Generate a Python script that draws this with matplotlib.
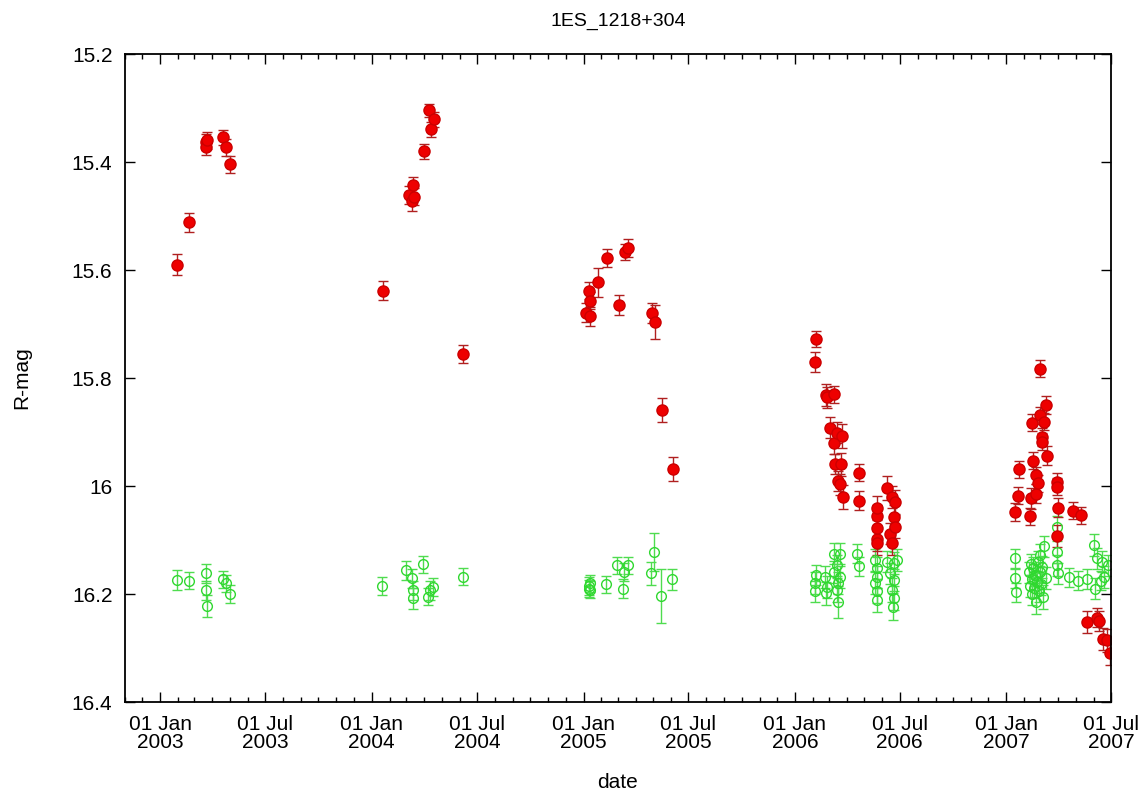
import pandas as pd
import matplotlib
matplotlib.use('Agg')
import matplotlib.pyplot as plt
import matplotlib.dates as mdates
from matplotlib.ticker import FuncFormatter

#----Data----#
red_dates = ['2003-01-29', '2003-02-19', '2003-03-21', '2003-03-21', '2003-03-22', '2003-04-19', '2003-04-25', '2003-05-02',
             '2004-01-21', '2004-03-06', '2004-03-10', '2004-03-12', '2004-03-15', '2004-03-31', '2004-04-09', '2004-04-13',
             '2004-04-17', '2004-06-06',
             '2005-01-06', '2005-01-10', '2005-01-12', '2005-01-13', '2005-01-26', '2005-02-11', '2005-03-04', '2005-03-14',
             '2005-03-19', '2005-04-30', '2005-05-05', '2005-05-17', '2005-06-05',
             '2006-02-04', '2006-02-07', '2006-02-24', '2006-02-26', '2006-03-03', '2006-03-09', '2006-03-10', '2006-03-12',
             '2006-03-14', '2006-03-16', '2006-03-20', '2006-03-22', '2006-03-24', '2006-03-25', '2006-04-21', '2006-04-22',
             '2006-05-22', '2006-05-23', '2006-05-22', '2006-05-23', '2006-05-23', '2006-06-09', '2006-06-14', '2006-06-18',
             '2006-06-18', '2006-06-21', '2006-06-23', '2006-06-23',
             '2007-01-17', '2007-01-22', '2007-01-23', '2007-02-11', '2007-02-12', '2007-02-15', '2007-02-17', '2007-02-21',
             '2007-02-21', '2007-02-25', '2007-02-28', '2007-03-01', '2007-03-03', '2007-03-04', '2007-03-07', '2007-03-10',
             '2007-03-12', '2007-03-29', '2007-03-30', '2007-03-31', '2007-03-29', '2007-04-27', '2007-05-10', '2007-05-21',
             '2007-06-07', '2007-06-10', '2007-06-18', '2007-06-24', '2007-06-29']
red_mag = [15.590, 15.512, 15.363, 15.372, 15.360, 15.354, 15.373, 15.404,
           15.638, 15.461, 15.473, 15.443, 15.464, 15.380, 15.304, 15.339,
           15.321, 15.756,
           15.679, 15.638, 15.657, 15.686, 15.623, 15.578, 15.665, 15.566,
           15.559, 15.680, 15.696, 15.859, 15.969,
           15.770, 15.728, 15.831, 15.836, 15.892, 15.920, 15.830, 15.959,
           15.901, 15.991, 15.997, 15.960, 15.907, 16.020, 16.027, 15.975,
           16.056, 16.041, 16.099, 16.078, 16.106, 16.004, 16.088, 16.020,
           16.106, 16.057, 16.029, 16.075,
           16.048, 16.018, 15.969, 16.056, 16.023, 15.883, 15.953, 15.980,
           16.014, 15.995, 15.869, 15.783, 15.909, 15.918, 15.881, 15.850,
           15.944, 15.992, 16.001, 16.040, 16.093, 16.046, 16.054, 16.252,
           16.244, 16.250, 16.283, 16.286, 16.309]
red_err = [0.020, 0.018, 0.015, 0.015, 0.015, 0.014, 0.015, 0.016,
           0.018, 0.016, 0.018, 0.016, 0.016, 0.014, 0.012, 0.014,
           0.014, 0.017,
           0.018, 0.016, 0.016, 0.018, 0.027, 0.016, 0.018, 0.015,
           0.016, 0.018, 0.032, 0.022, 0.022,
           0.018, 0.015, 0.020, 0.020, 0.020, 0.020, 0.016, 0.018,
           0.020, 0.018, 0.020, 0.022, 0.022, 0.022, 0.018, 0.015,
           0.020, 0.022, 0.022, 0.020, 0.022, 0.022, 0.020, 0.020,
           0.022, 0.022, 0.022, 0.022,
           0.016, 0.016, 0.016, 0.016, 0.020, 0.016, 0.016, 0.016,
           0.018, 0.016, 0.016, 0.016, 0.016, 0.016, 0.016, 0.016,
           0.018, 0.016, 0.016, 0.018, 0.020, 0.016, 0.016, 0.020,
           0.018, 0.018, 0.020, 0.022, 0.022]

green_dates = ['2003-01-29', '2003-02-19', '2003-03-21', '2003-03-21', '2003-03-22', '2003-04-19', '2003-04-25', '2003-05-02',
               '2004-01-19', '2004-02-29', '2004-03-10', '2004-03-12', '2004-03-13', '2004-03-30', '2004-04-07', '2004-04-10',
               '2004-04-16', '2004-06-07',
               '2005-01-10', '2005-01-11', '2005-01-12', '2005-01-13', '2005-02-09', '2005-02-28', '2005-03-10', '2005-03-12',
               '2005-03-18', '2005-04-27', '2005-05-03', '2005-05-15', '2005-06-03',
               '2006-02-04', '2006-02-05', '2006-02-07', '2006-02-22', '2006-02-24', '2006-02-26', '2006-03-09', '2006-03-10',
               '2006-03-15', '2006-03-15', '2006-03-17', '2006-03-17', '2006-03-20', '2006-03-20', '2006-04-19', '2006-04-21',
               '2006-05-20', '2006-05-20', '2006-05-22', '2006-05-22', '2006-05-23', '2006-05-23', '2006-06-09', '2006-06-15',
               '2006-06-18', '2006-06-20', '2006-06-21', '2006-06-21', '2006-06-22', '2006-06-27',
               '2007-01-16', '2007-01-17', '2007-01-18', '2007-02-10', '2007-02-11', '2007-02-12', '2007-02-14', '2007-02-15',
               '2007-02-17', '2007-02-18', '2007-02-20', '2007-02-21', '2007-02-23', '2007-02-25', '2007-02-26', '2007-02-28',
               '2007-03-01', '2007-03-02', '2007-03-04', '2007-03-05', '2007-03-07', '2007-03-10', '2007-03-29', '2007-03-30',
               '2007-03-30', '2007-03-31', '2007-04-20', '2007-05-05', '2007-05-20', '2007-06-01', '2007-06-04', '2007-06-07',
               '2007-06-13', '2007-06-16', '2007-06-19', '2007-06-25']
green_mag = [16.174, 16.175, 16.162, 16.193, 16.222, 16.173, 16.180, 16.200,
             16.185, 16.156, 16.171, 16.193, 16.208, 16.145, 16.205, 16.193,
             16.187, 16.168,
             16.185, 16.190, 16.180, 16.192, 16.182, 16.147, 16.190, 16.159,
             16.147, 16.162, 16.122, 16.203, 16.173,
             16.180, 16.195, 16.165, 16.168, 16.199, 16.187, 16.125, 16.159,
             16.147, 16.193, 16.180, 16.215, 16.125, 16.168, 16.125, 16.149,
             16.137, 16.180, 16.152, 16.211, 16.168, 16.195, 16.140, 16.162,
             16.193, 16.224, 16.143, 16.208, 16.174, 16.137,
             16.134, 16.171, 16.197, 16.160, 16.185, 16.145, 16.172, 16.200,
             16.152, 16.188, 16.165, 16.215, 16.178, 16.140, 16.195, 16.160,
             16.128, 16.182, 16.150, 16.205, 16.112, 16.170, 16.075, 16.122,
             16.147, 16.162, 16.169, 16.175, 16.172, 16.109, 16.190, 16.134,
             16.175, 16.140, 16.169, 16.147]
green_err = [0.018, 0.016, 0.018, 0.018, 0.020, 0.016, 0.016, 0.016,
             0.016, 0.018, 0.018, 0.018, 0.020, 0.016, 0.016, 0.018,
             0.016, 0.016,
             0.016, 0.016, 0.016, 0.016, 0.016, 0.016, 0.018, 0.016,
             0.016, 0.022, 0.035, 0.050, 0.020,
             0.020, 0.020, 0.018, 0.020, 0.022, 0.020, 0.020, 0.020,
             0.020, 0.022, 0.020, 0.030, 0.020, 0.020, 0.018, 0.018,
             0.020, 0.020, 0.020, 0.022, 0.020, 0.022, 0.020, 0.020,
             0.022, 0.025, 0.020, 0.022, 0.020, 0.020,
             0.018, 0.018, 0.018, 0.020, 0.020, 0.020, 0.020, 0.020,
             0.020, 0.020, 0.020, 0.022, 0.020, 0.020, 0.020, 0.020,
             0.020, 0.020, 0.020, 0.022, 0.020, 0.020, 0.020, 0.020,
             0.020, 0.020, 0.018, 0.018, 0.018, 0.020, 0.020, 0.020,
             0.018, 0.020, 0.020, 0.020]

plt.rcParams['font.family'] = ['Liberation Sans', 'DejaVu Sans']

fig = plt.figure(figsize=(11.48, 7.94), dpi=100)
ax = fig.add_axes([125 / 1148, 1 - 702 / 794, (1111 - 125) / 1148, (702 - 54) / 794])

ax.errorbar(pd.to_datetime(green_dates), green_mag, yerr=green_err, fmt='o', markersize=7,
            markerfacecolor='none', markeredgecolor='#2fd82f', markeredgewidth=1.0,
            ecolor='#4fdc4f', elinewidth=1.0, capsize=3.6, capthick=1.0)
ax.errorbar(pd.to_datetime(red_dates), red_mag, yerr=red_err, fmt='o', markersize=8,
            markerfacecolor='#ee0000', markeredgecolor='#cc0000', markeredgewidth=1.0,
            ecolor='#b02020', elinewidth=1.0, capsize=3.6, capthick=1.0)

ax.set_xlim(pd.Timestamp('2002-11-01'), pd.Timestamp('2007-07-01'))
ax.set_ylim(16.4, 15.2)
ax.set_yticks([15.2, 15.4, 15.6, 15.8, 16.0, 16.2, 16.4])
ax.yaxis.set_major_formatter(FuncFormatter(lambda v, p: '%g' % round(v, 2)))

ax.xaxis.set_major_locator(mdates.MonthLocator(bymonth=[1, 7]))
ax.xaxis.set_minor_locator(mdates.MonthLocator())
ax.xaxis.set_major_formatter(mdates.DateFormatter('%d %b\n%Y'))

ax.tick_params(which='both', direction='in', top=True, right=True, labelsize=15, width=1)
ax.tick_params(which='major', length=7, pad=9)
ax.tick_params(which='minor', length=3.5)
for lbl in ax.get_xticklabels():
    lbl.set_linespacing(1.0)
for s in ax.spines.values():
    s.set_linewidth(1.3)

fig.text(618 / 1148, 1 - 21 / 794, '1ES_1218+304', ha='center', va='center', fontsize=14,
         family=['Liberation Sans Narrow', 'Liberation Sans', 'DejaVu Sans'])
fig.text(618 / 1148, 1 - 782 / 794, 'date', ha='center', va='center', fontsize=15)
fig.text(22 / 1148, 1 - 378 / 794, 'R-mag', ha='center', va='center', rotation=90, fontsize=15)

fig.savefig('out.png', dpi=100)
